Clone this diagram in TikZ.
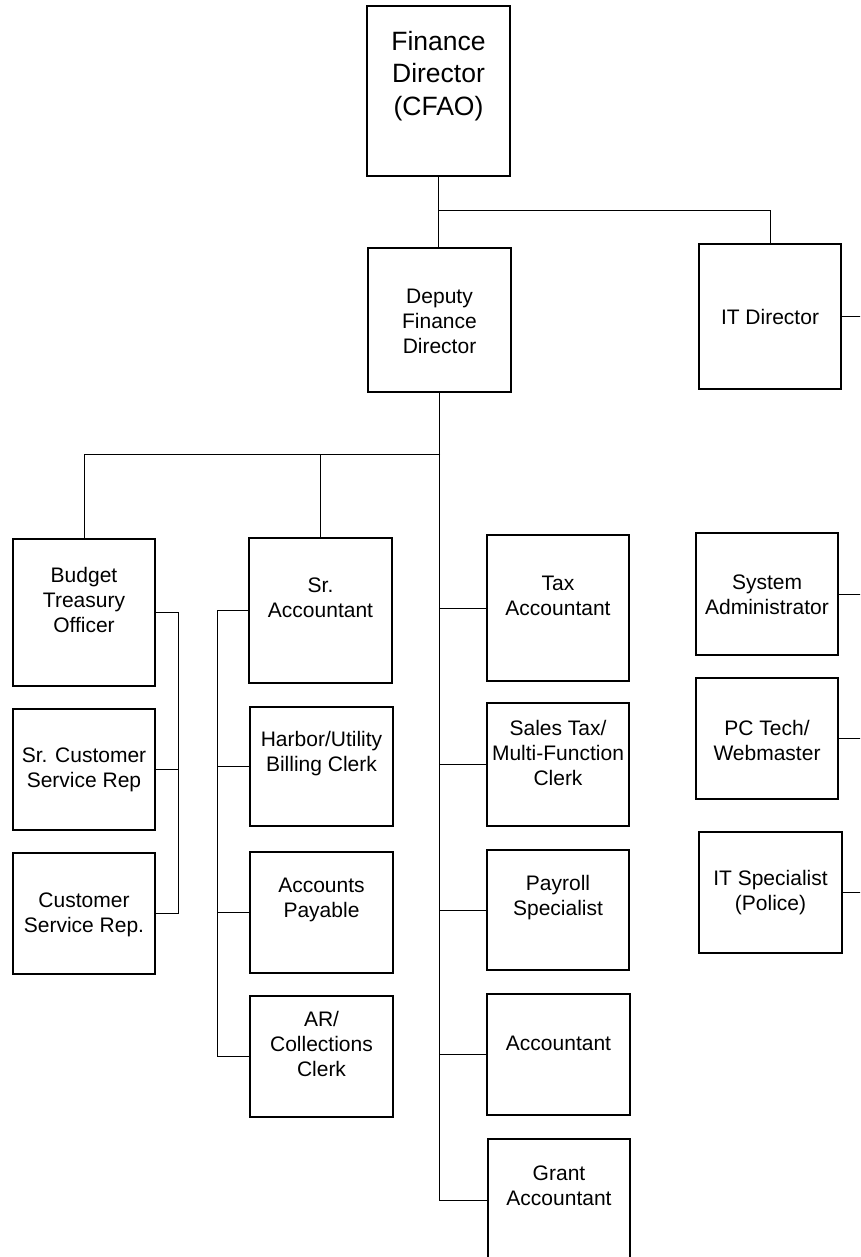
\documentclass[tikz,border=0pt]{standalone}
\usepackage{fontspec}
\setmainfont{Liberation Sans}
\tikzset{
  obox/.style={draw=black, fill=white, line width=1.5pt, inner sep=0pt},
  otext/.style={align=center, inner sep=0pt, font=\fontsize{21}{25}\selectfont},
  bigtext/.style={align=center, inner sep=0pt, font=\fontsize{26.5}{32.5}\selectfont},
  conn/.style={draw=black, line width=0.9pt}
}
\newcommand\orgbox[8][otext]{%
  \node[obox, minimum width={#5-#3}, minimum height={#6-#4}] (#2) at ({(#3+#5)/2},{(#4+#6)/2}) {};
  \node[#1] (#2-t) at ({(#3+#5)/2},#7) {#8};
}
\begin{document}
\begin{tikzpicture}[x=1pt,y=-1pt]
\clip (0,0) rectangle (860,1257);
\fill[white] (0,0) rectangle (860,1257);
% coordinates for junctions
\coordinate (j1) at (439,210);
\coordinate (j2) at (440,454);
\coordinate (lb) at (178,0);
\coordinate (sb) at (217,0);
\coordinate (edge) at (864,0);
% connectors (drawn first, boxes on top)
\begin{scope}[conn]
\end{scope}
% boxes
\orgbox[bigtext]{fd}{367}{6}{510}{176}{76}{Finance\\Director\\(CFAO)}
\orgbox{dep}{368}{248}{511}{392}{321}{Deputy\\Finance\\Director}
\orgbox{itd}{699}{244}{841}{389}{317}{IT Director}
\orgbox{bto}{13}{539}{155}{686}{600}{Budget\\Treasury\\Officer}
\orgbox{sracc}{249}{538}{392}{683}{598}{Sr.\\Accountant}
\orgbox{tax}{487}{535}{629}{681}{596}{Tax\\Accountant}
\orgbox{sysadm}{696}{533}{838}{655}{595}{System\\Administrator}
\orgbox{srcsr}{13}{709}{155}{830}{770}{Sr. Customer\\Service Rep}
\orgbox{harbor}{250}{707}{393}{826}{754}{Harbor/Utility\\Billing Clerk}
\orgbox{sales}{487}{703}{629}{826}{753}{Sales Tax/\\Multi-Function\\Clerk}
\orgbox{pc}{696}{678}{838}{799}{740}{PC Tech/\\Webmaster}
\orgbox{csr}{13}{853}{155}{974}{915}{Customer\\Service Rep.}
\orgbox{ap}{250}{852}{393}{973}{900}{Accounts\\Payable}
\orgbox{pay}{487}{850}{629}{970}{898}{Payroll\\Specialist}
\orgbox{its}{699}{832}{842}{953}{893}{IT Specialist\\(Police)}
\orgbox{ar}{250}{996}{393}{1117}{1044}{AR/\\Collections\\Clerk}
\orgbox{acc}{487}{994}{630}{1115}{1043}{Accountant}
\orgbox{grant}{488}{1139}{630}{1261}{1186}{Grant\\Accountant}
% connectors
\begin{scope}[conn]
\draw (fd.south) -- (fd.south |- dep.north);
\draw (j1) -| (itd.north);
\draw (dep.south) |- (grant.west);
\draw (j2) -| (bto.north);
\draw (sracc.north) -- (sracc.north |- j2);
\draw (tax.west) -- (tax.west -| j2);
\draw (sales.west) -- (sales.west -| j2);
\draw (pay.west) -- (pay.west -| j2);
\draw (acc.west) -- (acc.west -| j2);
\draw (bto.east) -| (lb |- csr.east) -- (csr.east);
\draw (srcsr.east) -- (srcsr.east -| lb);
\draw (sracc.west) -| (sb |- ar.west) -- (ar.west);
\draw (harbor.west) -- (harbor.west -| sb);
\draw (ap.west) -- (ap.west -| sb);
\draw (itd.east) -- (itd.east -| edge);
\draw (sysadm.east) -- (sysadm.east -| edge);
\draw (pc.east) -- (pc.east -| edge);
\draw (its.east) -- (its.east -| edge);
\end{scope}
\end{tikzpicture}
\end{document}
